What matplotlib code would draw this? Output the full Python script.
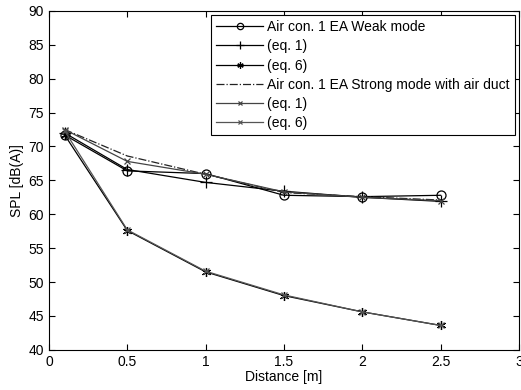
import matplotlib
matplotlib.use("Agg")
import matplotlib.pyplot as plt

plt.rcParams['font.family'] = ['Liberation Sans', 'DejaVu Sans']

distance = [0.1, 0.5, 1.0, 1.5, 2.0, 2.5]
weak_meas = [71.7, 66.4, 66.0, 62.8, 62.6, 62.8]
weak_eq1 = [72.0, 66.6, 64.7, 63.4, 62.5, 61.9]
weak_eq6 = [71.7, 57.6, 51.5, 48.0, 45.6, 43.6]
strong_meas = [72.5, 68.6, 65.9, 63.2, 62.6, 62.1]
strong_eq1 = [72.5, 67.8, 65.9, 63.3, 62.5, 62.0]
strong_eq6 = [72.3, 57.7, 51.6, 48.1, 45.6, 43.6]
labels = ["Air con. 1 EA Weak mode", "(eq. 1)", "(eq. 6)",
          "Air con. 1 EA Strong mode with air duct", "(eq. 1)", "(eq. 6)"]

fig = plt.figure(figsize=(5.21, 3.90), dpi=100)
ax = fig.add_axes([0.094, 0.103, 0.902, 0.869])

ax.plot(distance, weak_meas, '-', color='black', lw=0.9, marker='o', ms=6.5, mfc='none', mew=0.9, label=labels[0])
ax.plot(distance, weak_eq1, '-', color='black', lw=0.9, marker='+', ms=8, mew=0.9, label=labels[1])
ax.plot(distance, weak_eq6, '-', color='black', lw=0.9, marker=(6, 2, 0), ms=6.5, mew=0.9, label=labels[2])
ax.plot(distance, strong_meas, '-.', color='#222222', lw=0.9, label=labels[3])
ax.plot(distance, strong_eq1, '-', color='#444444', lw=0.9, marker='x', ms=4, mew=0.9, label=labels[4])
ax.plot(distance, strong_eq6, '-', color='#555555', lw=0.9, marker='x', ms=4, mew=0.9, label=labels[5])

ax.set_xlim(0, 3)
ax.set_ylim(40, 90)
ax.set_xticks([0, 0.5, 1, 1.5, 2, 2.5, 3])
ax.set_xticklabels(['0', '0.5', '1', '1.5', '2', '2.5', '3'])
ax.set_yticks(range(40, 91, 5))
ax.tick_params(direction='in', top=True, right=True, labelsize=10, length=4, width=0.8)
for s in ax.spines.values():
    s.set_linewidth(0.8)
ax.set_xlabel('Distance [m]', fontsize=10, labelpad=1)
ax.set_ylabel('SPL [dB(A)]', fontsize=10, labelpad=3)

leg = ax.legend(loc='upper right', fontsize=10, frameon=True, fancybox=False,
                edgecolor='black', framealpha=1, handlelength=3.4,
                labelspacing=0.38, borderpad=0.35, handletextpad=0.3,
                borderaxespad=0.3, markerscale=0.7)
leg.get_frame().set_linewidth(0.8)

fig.savefig('out.png', dpi=100)
